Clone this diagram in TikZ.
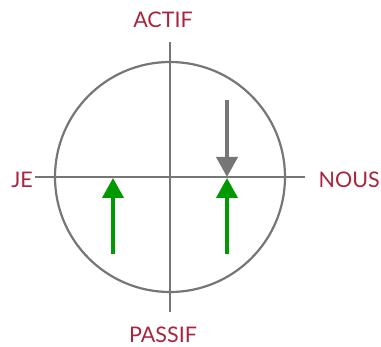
\documentclass[tikz,border=0pt]{standalone}
\usepackage{fontspec}
\setmainfont{Lato}
\usetikzlibrary{arrows.meta}
\definecolor{lbl}{HTML}{A8243F}
\definecolor{axis}{HTML}{767676}
\definecolor{grn}{HTML}{009900}
\begin{document}
\begin{tikzpicture}[x=1pt,y=-1pt,
  lab/.style={text=lbl,font=\fontsize{21.5}{24}\selectfont,inner sep=0pt},
  axisline/.style={draw=axis,line width=2.2pt},
  arr/.style={line width=4pt,-{Triangle[width=21pt,length=20pt]}}]
\useasboundingbox (0,0) rectangle (381,347);
\coordinate (c) at (170,177);
\draw[axisline] (c) circle (115);
\coordinate (top) at (170,42);
\coordinate (bot) at (170,312);
\coordinate (lft) at (35,177);
\coordinate (rgt) at (305,177);
\draw[axisline] (top) -- (bot);
\draw[axisline] (lft) -- (rgt);
\node[lab,anchor=base] (actif) at (163,28) {ACTIF};
\node[lab,anchor=base] (passif) at (163,343) {PASSIF};
\node[lab,anchor=base east] (je) at (33,188) {JE};
\node[lab,anchor=base west] (nous) at (318.5,187.5) {NOUS};
\coordinate (g0) at (227,100);
\coordinate (g1) at (227,177);
\coordinate (a0) at (113,254);
\coordinate (a1) at (113,178);
\coordinate (b0) at (227,254);
\coordinate (b1) at (227,178);
\draw[arr,axis] (g0) -- (g1);
\draw[arr,grn] (a0) -- (a1);
\draw[arr,grn] (b0) -- (b1);
\end{tikzpicture}
\end{document}
